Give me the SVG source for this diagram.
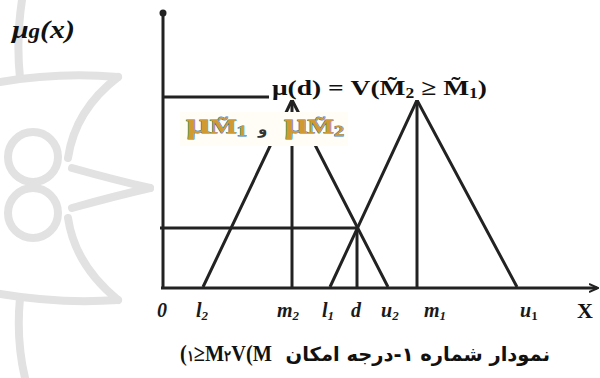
<svg xmlns="http://www.w3.org/2000/svg" width="600" height="378" viewBox="0 0 600 378">
<defs>
<marker id="arr" markerWidth="10" markerHeight="10" refX="8" refY="5" orient="auto" markerUnits="userSpaceOnUse">
<path d="M0,1 L9,5 L0,9" fill="none" stroke="#222" stroke-width="2"/>
</marker>
</defs>
<style>
.ln{stroke:#222;stroke-width:3;fill:none}
.wm{stroke:#e2e2e2;stroke-width:8;fill:none;stroke-linecap:round}
.tick{font-family:"Liberation Serif",serif;font-weight:bold;font-style:italic;font-size:20px;fill:#1a1a1a}
.sub{font-size:13px}
.lbl{font-family:"Liberation Serif",serif;font-weight:bold;fill:#111}
.col{font-family:"Liberation Serif",serif;font-weight:bold;fill:#d09a30;stroke:#3d7cc9;stroke-width:0.8;paint-order:stroke}
.fa{font-family:"DejaVu Sans",sans-serif;font-weight:bold}
</style>
<rect width="600" height="378" fill="#fff"/>
<g id="watermark">
<circle cx="33" cy="157" r="25" class="wm"/>
<circle cx="33" cy="213" r="25" class="wm"/>
<path class="wm" d="M22,0 Q16,40 20,78"/>
<path class="wm" d="M0,82 Q60,72 118,77"/>
<path class="wm" d="M118,77 Q75,110 68,158"/>
<path class="wm" d="M72,168 Q115,180 150,188"/>
<path class="wm" d="M150,188 Q115,196 72,208"/>
<path class="wm" d="M68,218 Q75,265 118,300"/>
<path class="wm" d="M0,294 Q60,304 118,300"/>
<path class="wm" d="M20,298 Q16,340 25,378"/>
</g>
<g id="y-label">
<text x="12" y="38" class="lbl" font-style="italic" font-size="26" textLength="63" lengthAdjust="spacingAndGlyphs">μ<tspan font-size="20">g</tspan>(x)</text>
</g>
<g id="axes">
<line x1="163" y1="13" x2="163" y2="288" class="ln"/>
<circle cx="163" cy="13" r="3.5" fill="#222"/>
<line x1="161" y1="288" x2="597" y2="288" class="ln" marker-end="url(#arr)"/>
</g>
<g id="connectors">
<polyline class="ln" points="203,287 292,100 388,287"/>
<line class="ln" x1="292" y1="100" x2="292" y2="288"/>
<polyline class="ln" points="330,287 417,100 517,287"/>
<line class="ln" x1="417" y1="100" x2="417" y2="288"/>
<line class="ln" x1="163" y1="97" x2="270" y2="97"/>
<line class="ln" x1="160" y1="228" x2="357" y2="228"/>
<line class="ln" x1="357" y1="228" x2="357" y2="288"/>
</g>
<g id="label-top">
<rect x="269" y="73" width="222" height="27" fill="#fff"/>
<text x="272" y="95" class="lbl" font-size="22" textLength="215" lengthAdjust="spacingAndGlyphs">μ(d) = V(M̃<tspan font-size="14" dy="3">2</tspan><tspan dy="-3"> ≥ M̃</tspan><tspan font-size="14" dy="3">1</tspan><tspan dy="-3">)</tspan></text>
</g>
<g id="label-mu">
<rect x="180" y="112" width="168" height="34" fill="#fffdf6"/>
<text x="186" y="133" class="col" font-size="28" textLength="61" lengthAdjust="spacingAndGlyphs">μ<tspan font-size="19">M̃</tspan><tspan font-size="14" dy="3">1</tspan></text>
<text x="258" y="134" class="fa" font-size="15" fill="#333">و</text>
<text x="284" y="133" class="col" font-size="28" textLength="60" lengthAdjust="spacingAndGlyphs">μ<tspan font-size="19">M̃</tspan><tspan font-size="14" dy="3">2</tspan></text>
</g>
<g id="ticks">
<text x="157" y="317" class="tick">0</text>
<text x="196" y="317" class="tick">l<tspan class="sub" dy="3">2</tspan></text>
<text x="277" y="317" class="tick">m<tspan class="sub" dy="3">2</tspan></text>
<text x="322" y="317" class="tick">l<tspan class="sub" dy="3">1</tspan></text>
<text x="351" y="317" class="tick">d</text>
<text x="381" y="317" class="tick">u<tspan class="sub" dy="3">2</tspan></text>
<text x="424" y="317" class="tick">m<tspan class="sub" dy="3">1</tspan></text>
<text x="520" y="317" class="tick">u<tspan class="sub" dy="3" font-style="normal">1</tspan></text>
<text x="577" y="318" class="lbl" font-size="22">X</text>
</g>
<g id="caption">
<text x="180" y="361" class="lbl" font-size="23" direction="ltr" unicode-bidi="bidi-override" textLength="92" lengthAdjust="spacingAndGlyphs">(<tspan font-size="15">۱</tspan>≥M<tspan font-size="15">۲</tspan>V(M</text>
<text x="550" y="361" class="fa" font-size="19.5" text-anchor="end" fill="#111">نمودار شماره ۱-درجه امکان</text>
</g>
</svg>
